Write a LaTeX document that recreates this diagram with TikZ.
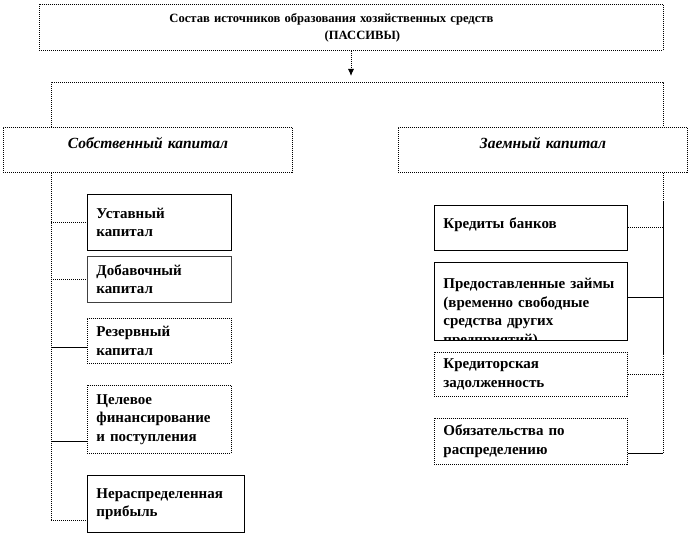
\documentclass[tikz,border=0pt]{standalone}
\usepackage{fontspec}
\setmainfont{Liberation Serif}
\usetikzlibrary{calc,arrows.meta}
\tikzset{
  box/.style={draw,line width=0.9pt,inner xsep=9pt,inner ysep=0pt,align=left,anchor=north west,
    font=\bfseries\fontsize{15}{18.5}\selectfont},
  dbox/.style={box,dash pattern=on 1pt off 1pt},
  head/.style={dbox,align=center,text height=10pt,text depth=13pt,
    font=\bfseries\itshape\fontsize{15.5}{18}\selectfont},
  conn/.style={line width=0.9pt},
  dconn/.style={conn,dash pattern=on 1pt off 1pt},
}
\begin{document}
\begin{tikzpicture}[x=1pt,y=-1pt,line cap=butt,line join=miter,>=latex]
  \useasboundingbox (0,0) rectangle (690,534);
  % top box and the split
  \node[dbox,align=center,text width=606pt,minimum height=46pt,font=\bfseries\fontsize{12.6}{17}\selectfont]
    (top) at (39,4) {Состав источников образования хозяйственных средств\rule{40pt}{0pt}\\\rule{22pt}{0pt}(ПАССИВЫ)};
  \coordinate (ar) at (351,76);
  \coordinate (bl) at (51,82);
  \coordinate (br) at (663,82);
  \node[head,text width=271pt,minimum height=45pt] (sob) at (3,127) {Собственный капитал};
  \node[head,text width=271pt,minimum height=45pt] (zaem) at (398,127) {Заемный капитал};
  \draw[dconn,-{Latex[length=7pt,width=6pt]}] (top.south -| ar) -- (ar);
  \draw[dconn] (bl |- sob.north) -- (bl) -- (br) -- (br |- zaem.north);
  % own capital
  \node[box,text width=126pt,minimum height=56pt] (ust) at (87,194) {Уставный\\капитал};
  \node[box,draw=black!75,text width=126pt,minimum height=46pt] (dob) at (87,256) {Добавочный\\капитал};
  \node[dbox,text width=126pt,minimum height=45pt] (rez) at (87,318) {Резервный\\капитал};
  \node[dbox,text width=126pt,minimum height=68pt] (cel) at (87,385) {Целевое\\финансирование\\и поступления};
  \node[box,text width=139pt,minimum height=57pt] (ner) at (87,475) {Нераспределенная\\прибыль};
  \draw[dconn] (bl |- sob.south) -- ([yshift=-16.5pt]bl |- ner.west);
  \draw[dconn] (bl |- ust.west) -- (ust.west);
  \draw[dconn] (bl |- dob.west) -- (dob.west);
  \draw[conn] ([yshift=-6.5pt]bl |- rez.west) -- ([yshift=-6.5pt]rez.west);
  \draw[conn] ([yshift=-22pt]bl |- cel.west) -- ([yshift=-22pt]cel.west);
  \draw[dconn] ([yshift=-16.5pt]bl |- ner.west) -- ([yshift=-16.5pt]ner.west);
  % borrowed capital
  \node[box,text width=175pt,minimum height=45pt,text depth=10pt] (kred) at (434,205) {Кредиты банков};
  \node[box,minimum width=193pt,minimum height=78pt] (zaim) at (434,262) {};
  \begin{scope}
    \clip (zaim.north west) rectangle (zaim.south east);
    \node[box,draw=none,text width=175pt] (zaimtxt) at ([yshift=-16pt]zaim.north west)
      {Предоставленные займы\\(временно свободные\\средства других\\предприятий)};
  \end{scope}
  \node[dbox,text width=175pt,minimum height=44pt] (kz) at (434,352) {Кредиторская\\задолженность};
  \node[dbox,text width=175pt,minimum height=46pt] (obl) at (434,418) {Обязательства по\\распределению};
  \draw[dconn] (br |- zaem.south) -- ++(0,28) coordinate (r1);
  \draw[conn] (r1) -- ++(0,153) coordinate (r2);
  \draw[dconn] (r2) -- ([yshift=-12pt]br |- obl.east);
  \draw[dconn] (kred.east) -- (br |- kred.east);
  \draw[conn] ([yshift=4pt]zaim.east) -- ([yshift=4pt]br |- zaim.east);
  \draw[dconn] (kz.east) -- (br |- kz.east);
  \draw[conn] ([yshift=-12pt]obl.east) -- ([yshift=-12pt]br |- obl.east);
\end{tikzpicture}
\end{document}
